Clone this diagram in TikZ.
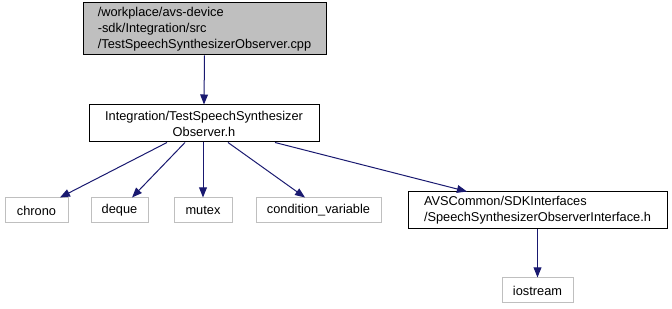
\documentclass[tikz,border=0pt]{standalone}
\usepackage{fontspec}
\setmainfont{Liberation Sans}
\usetikzlibrary{arrows.meta}
\definecolor{edgeblue}{HTML}{191970}
\definecolor{lightframe}{HTML}{BFBFBF}
\begin{document}
\begin{tikzpicture}[x=0.75pt,y=-0.75pt,
  font=\fontsize{9.6}{11.9}\selectfont,
  box/.style={draw=black,line width=0.75pt,fill=white,inner sep=0pt,align=center},
  rootbox/.style={box,fill=lightframe,align=left},
  sysbox/.style={draw=lightframe,line width=0.75pt,fill=white,inner sep=0pt,minimum height=18.75pt},
  dep/.style={draw=edgeblue,line width=0.75pt,-{Triangle[length=7.5pt,width=5.8pt]}}]
\useasboundingbox (0,0) rectangle (672,309);

\node[rootbox,minimum width=182.25pt,minimum height=39pt] (src) at (204.5,29)
  {/workplace/avs-device\\-sdk/Integration/src\\/TestSpeechSynthesizerObserver.cpp};
\node[box,minimum width=172.5pt,minimum height=27.75pt] (hdr) at (204,123.5)
  {Integration/TestSpeechSynthesizer\\Observer.h};

\node[sysbox,minimum width=47.25pt] (chrono) at (36.5,210.5) {chrono};
\node[sysbox,minimum width=42.75pt] (deque) at (119.5,210.5) {deque};
\node[sysbox,minimum width=43.5pt] (mutex) at (203,210.5) {mutex};
\node[sysbox,minimum width=93.75pt] (condvar) at (318.5,210.5) {condition\_variable};
\node[box,align=left,minimum width=194.25pt,minimum height=27.75pt] (iface) at (537.5,210.5)
  {AVSCommon/SDKInterfaces\\/SpeechSynthesizerObserverInterface.h};
\node[sysbox,minimum width=53.25pt] (iostream) at (537.5,290.5) {iostream};

\draw[dep] (src.south) -- (hdr.north);
\draw[dep] ([xshift=-27.75pt]hdr.south) -- ([xshift=17.6pt]chrono.north);
\draw[dep] ([xshift=-14.25pt]hdr.south) -- ([xshift=9.4pt]deque.north);
\draw[dep] (hdr.south -| mutex.north) -- (mutex.north);
\draw[dep] ([xshift=18pt]hdr.south) -- ([xshift=-10.1pt]condvar.north);
\draw[dep] ([xshift=53.25pt]hdr.south) -- ([xshift=-52.9pt]iface.north);
\draw[dep] (iface.south) -- (iostream.north);
\end{tikzpicture}
\end{document}
